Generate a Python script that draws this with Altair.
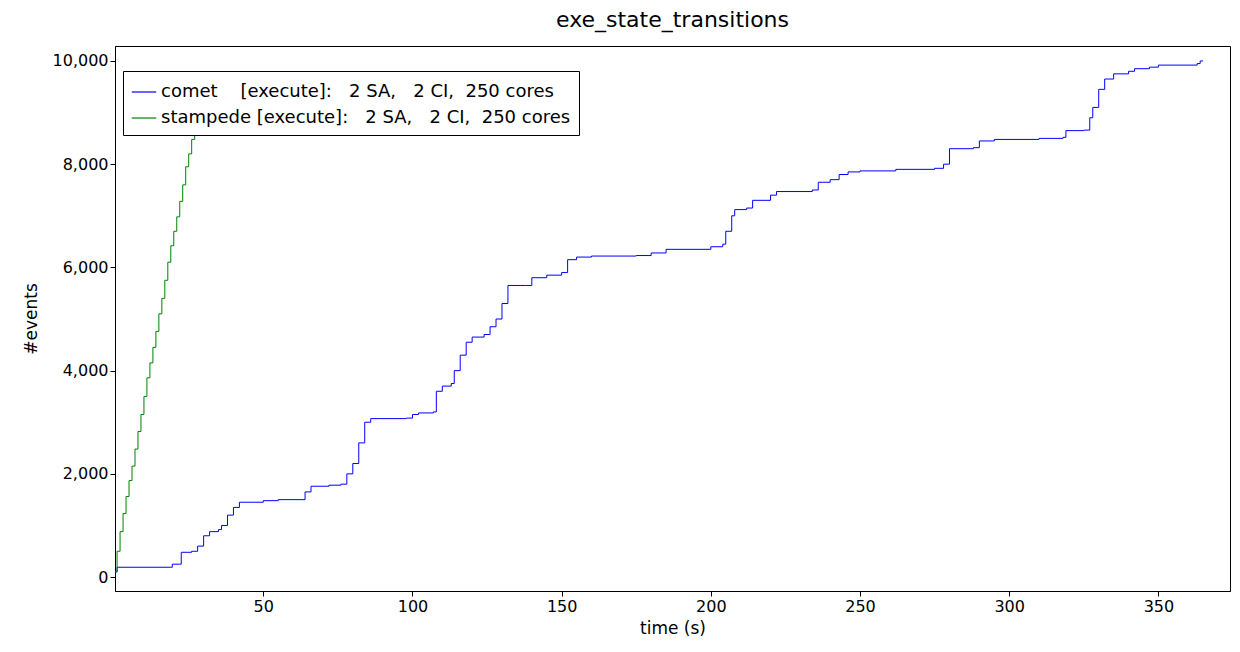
import pandas as pd
import altair as alt

comet_t = [0, 1, 19, 19.5, 22, 22.5, 26, 28, 30, 32, 35, 36, 38, 40, 42, 50, 55, 62, 64, 66, 72, 76, 78, 80, 82,
           84, 86, 98, 100, 102, 107, 108, 110, 113, 114, 116, 118, 120, 124, 126, 128, 130, 132, 138, 140, 145,
           150, 152, 155, 160, 175, 180, 185, 200, 204, 205, 207, 208, 212, 214, 220, 222, 234, 236, 240, 243,
           246, 250, 262, 275, 278, 280, 288, 290, 295, 310, 318, 319, 325, 327, 328, 330, 332, 335, 340, 342,
           347, 350, 363, 364, 365]
comet_v = [100, 190, 190, 250, 250, 480, 500, 600, 800, 880, 920, 1000, 1200, 1350, 1450, 1480, 1500, 1500, 1650,
           1760, 1780, 1800, 2000, 2200, 2600, 3000, 3070, 3080, 3150, 3180, 3200, 3600, 3700, 3750, 4000, 4300,
           4550, 4650, 4700, 4850, 5000, 5300, 5650, 5650, 5800, 5850, 5900, 6150, 6200, 6220, 6230, 6280, 6350,
           6400, 6450, 6700, 7000, 7120, 7150, 7300, 7400, 7470, 7500, 7650, 7700, 7800, 7850, 7870, 7900, 7920,
           8000, 8300, 8320, 8450, 8480, 8500, 8520, 8650, 8660, 8900, 9100, 9450, 9650, 9750, 9800, 9850, 9880,
           9920, 9950, 10000, 10000]
stampede_t = list(range(0, 29))
stampede_v = [100, 500, 880, 1230, 1560, 1870, 2150, 2480, 2820, 3150, 3500, 3860, 4150, 4450, 4760, 5100, 5400,
              5750, 6100, 6420, 6700, 6980, 7280, 7600, 7950, 8200, 8480, 8700, 8950]

nb = "\u00a0"
lab_comet = f"comet{nb*4}[execute]:{nb*3}2 SA,{nb*3}2 CI,{nb*2}250 cores"
lab_stamp = f"stampede [execute]:{nb*3}2 SA,{nb*3}2 CI,{nb*2}250 cores".replace(" ", nb)

df = pd.concat([
    pd.DataFrame({"t": comet_t, "v": comet_v, "s": lab_comet}),
    pd.DataFrame({"t": stampede_t, "v": stampede_v, "s": lab_stamp}),
])

font = "DejaVu Sans"
chart = alt.Chart(df).mark_line(interpolate="step-after", strokeWidth=1, clip=True).encode(
    x=alt.X("t:Q", title="time (s)",
            scale=alt.Scale(domain=[0.3, 374], nice=False, zero=False),
            axis=alt.Axis(values=[50, 100, 150, 200, 250, 300, 350], grid=False, tickSize=5,
                          domainColor="black", tickColor="black", labelFontSize=16,
                          titleFontSize=17, titleFontWeight="normal", labelFont=font, titleFont=font,
                          titlePadding=6, labelColor="black", titleColor="black")),
    y=alt.Y("v:Q", title="#events",
            scale=alt.Scale(domain=[-270, 10290], nice=False, zero=False),
            axis=alt.Axis(values=[0, 2000, 4000, 6000, 8000, 10000], grid=False, tickSize=5,
                          domainColor="black", tickColor="black", labelFontSize=16,
                          titleFontSize=17, titleFontWeight="normal", labelFont=font, titleFont=font,
                          titlePadding=12, labelColor="black", titleColor="black")),
    color=alt.Color("s:N", sort=[lab_comet, lab_stamp],
                    scale=alt.Scale(domain=[lab_comet, lab_stamp], range=["#0000ff", "#008000"]),
                    legend=alt.Legend(title=None, orient="none", legendX=8, legendY=25,
                                      fillColor="white", strokeColor="black", cornerRadius=0,
                                      padding=8, symbolType="stroke", symbolSize=600,
                                      symbolStrokeWidth=1.2, labelFontSize=18, labelFont=font,
                                      labelColor="black", rowPadding=4, labelLimit=600)),
).properties(
    width=1115, height=545,
    title=alt.TitleParams("exe_state_transitions", fontSize=22, fontWeight="normal", font=font,
                          color="black", offset=14),
    autosize=alt.AutoSizeParams(type="none"),
    padding={"left": 107, "top": 38, "right": 2, "bottom": 50},
).configure_view(stroke="black", strokeWidth=1)

chart.save("out.html", embed_options={"renderer": "svg", "actions": False})
